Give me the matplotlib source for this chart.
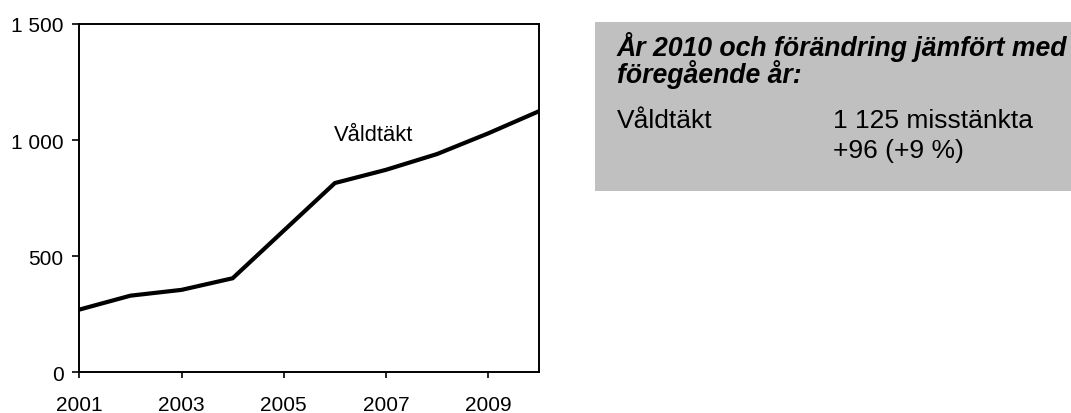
import matplotlib
matplotlib.use("Agg")
import matplotlib.pyplot as plt
import matplotlib.patches as patches
from matplotlib.ticker import FuncFormatter

plt.rcParams['font.family'] = ['Liberation Sans', 'DejaVu Sans']

# data
years = [2001, 2002, 2003, 2004, 2005, 2006, 2007, 2008, 2009, 2010]
suspects = [270, 330, 355, 405, 610, 815, 872, 940, 1029, 1125]
xticks = [2001, 2003, 2005, 2007, 2009]
yticks = [0, 500, 1000, 1500]
series_name = 'Våldtäkt'

box_title = 'År 2010 och förändring jämfört med\nföregående år:'
box_label = 'Våldtäkt'
box_value = '1 125 misstänkta'
box_change = '+96 (+9 %)'

W, H = 1071, 414
fig = plt.figure(figsize=(W / 100, H / 100), dpi=100)
fig.patch.set_facecolor('white')

ax = fig.add_axes([79.3 / W, 40.7 / H, 460 / W, 348.3 / H])
ax.plot(years, suspects, color='black', linewidth=3, solid_joinstyle='miter')
ax.set_xlim(years[0], years[-1])
ax.set_ylim(yticks[0], yticks[-1])
ax.set_xticks(xticks)
ax.set_yticks(yticks)
ax.yaxis.set_major_formatter(FuncFormatter(lambda v, p: f'{v:,.0f}'.replace(',', ' ')))
for s in ax.spines.values():
    s.set_linewidth(1.4)
    s.set_color('black')
ax.tick_params(axis='y', direction='out', length=4.7, width=1.2, pad=6.5, labelsize=15)
ax.tick_params(axis='x', direction='out', length=4.2, width=1.2, pad=12.5, labelsize=15)

# series label inside the plot
ax.text(0.64, 0.668, series_name, transform=ax.transAxes, ha='center',
        va='baseline', fontsize=15.8)

# grey info box on the right
box = patches.Rectangle((595 / W, 1 - 192 / H), 1 - 595 / W, (192 - 22.7) / H,
                        transform=fig.transFigure, facecolor='#C0C0C0',
                        edgecolor='none')
fig.patches.append(box)

x1 = 617 / W
x2 = 833 / W
fig.text(x1, 1 - 56 / H, box_title.split('\n')[0], fontsize=19.2,
         fontweight='bold', style='italic', va='baseline')
fig.text(x1, 1 - 83 / H, box_title.split('\n')[1], fontsize=19.2,
         fontweight='bold', style='italic', va='baseline')
fig.text(x1, 1 - 127.7 / H, box_label, fontsize=19, va='baseline')
fig.text(x2, 1 - 127.7 / H, box_value, fontsize=19, va='baseline')
fig.text(x2, 1 - 158.3 / H, box_change, fontsize=19, va='baseline')

fig.savefig('out.png', dpi=100, facecolor='white')
